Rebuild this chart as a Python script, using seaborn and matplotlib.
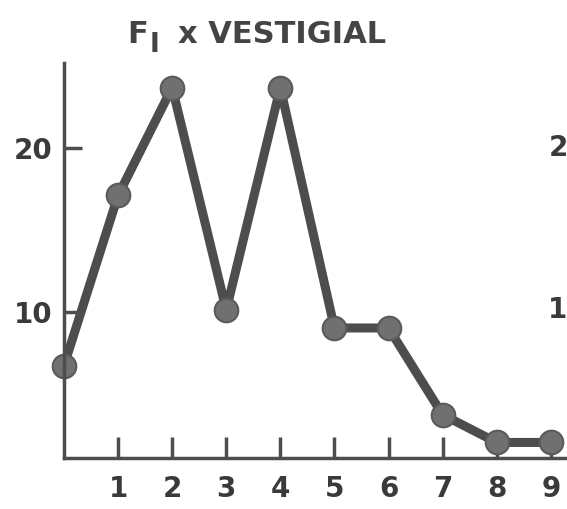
import matplotlib
matplotlib.use("Agg")
import matplotlib.pyplot as plt
import seaborn as sns
import pandas as pd

classes = [0, 1, 2, 3, 4, 5, 6, 7, 8, 9]
counts = [6.7, 17.1, 23.7, 10.1, 23.7, 9.0, 9.0, 3.7, 2.0, 2.0]
x_ticks = [1, 2, 3, 4, 5, 6, 7, 8, 9]
y_ticks = [10, 20]

sns.set_theme(style="white")
plt.rcParams['font.family'] = ['DejaVu Sans']

df = pd.DataFrame({"class": classes, "count": counts})

fig = plt.figure(figsize=(5.67, 5.09), dpi=100)
ax = fig.add_axes([64/567, 1 - 458/509, 1 - 64/567, (458 - 63)/509])

ink = "#4d4d4d"
sns.lineplot(data=df, x="class", y="count", ax=ax, color=ink, linewidth=6.5,
             marker="o", markersize=17, markerfacecolor="#707070",
             markeredgecolor="#5a5a5a", markeredgewidth=1.5, clip_on=False,
             solid_capstyle="round", solid_joinstyle="round")

ax.set_xlim(0, 9.3)
ax.set_ylim(1.05, 25.2)
ax.set_xticks(x_ticks)
ax.set_yticks(y_ticks)
ax.set_xticklabels([str(v) for v in x_ticks], fontweight="bold")
ax.set_yticklabels([str(v) for v in y_ticks], fontweight="bold")
ax.tick_params(axis="x", bottom=True, direction="in", length=15, width=2.5, color=ink,
               labelsize=20, labelcolor="#3a3a3a", pad=12)
ax.tick_params(axis="y", left=True, direction="in", length=13, width=2.5, color=ink,
               labelsize=20, labelcolor="#3a3a3a", pad=8)
ax.set_xlabel("")
ax.set_ylabel("")
for side in ["top", "right"]:
    ax.spines[side].set_visible(False)
for side in ["left", "bottom"]:
    ax.spines[side].set_color(ink)
    ax.spines[side].set_linewidth(2.5)

tcol = "#444444"
base = 1 - 43/509
fig.text(127/567, base, "F", ha="left", va="baseline", fontsize=22,
         fontweight="bold", color=tcol)
fig.text(150/567, 1 - 58/509, "I", ha="left", va="bottom", fontsize=19,
         fontweight="bold", color=tcol)
fig.text(178/567, base, "x VESTIGIAL", ha="left", va="baseline", fontsize=22,
         fontweight="bold", color=tcol)

# fragments of the neighbouring panel's labels at the right edge
fig.text(549/567, 1 - 148/509, "2", ha="left", va="center", fontsize=20,
         fontweight="bold", color="#3a3a3a")
fig.text(548/567, 1 - 310/509, "1", ha="left", va="center", fontsize=20,
         fontweight="bold", color="#3a3a3a")

fig.savefig("out.png", dpi=100)
